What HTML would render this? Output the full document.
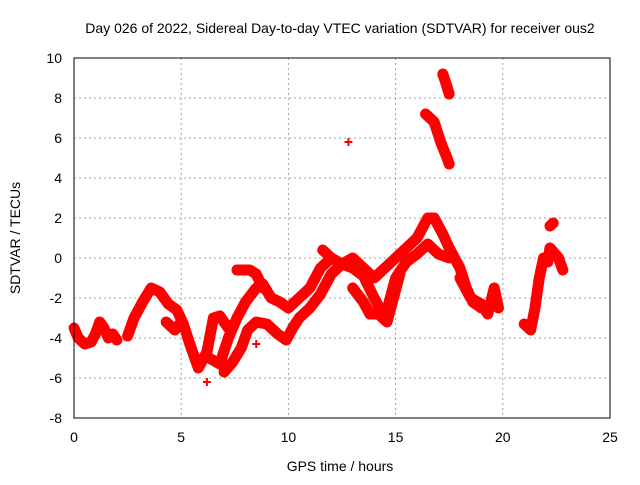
<!DOCTYPE html>
<html><head><meta charset="utf-8"><style>
body{margin:0;background:#fff}
svg text{font-family:"Liberation Sans",sans-serif;font-size:14px;fill:#000}
</style></head><body>
<svg id="c" width="640" height="480">
<text x="340" y="33" text-anchor="middle">Day 026 of 2022, Sidereal Day-to-day VTEC variation (SDTVAR) for receiver ous2</text>
<text x="340" y="471" text-anchor="middle">GPS time / hours</text>
<text transform="translate(20,238) rotate(-90)" text-anchor="middle">SDTVAR / TECUs</text>
<g id="grid"></g><g id="ticks"></g><g id="data"></g>
<rect x="74" y="58" width="536" height="360" fill="none" stroke="#000" stroke-width="1"/>
</svg>
<script>
const xTicks=[0,5,10,15,20,25];
const yTicks=[-8,-6,-4,-2,0,2,4,6,8,10];
const track1=[[0,-3.5],[0.2,-4],[0.5,-4.3],[0.8,-4.2],[1.0,-3.8],[1.2,-3.2],[1.4,-3.5],[1.6,-4],[1.8,-3.8],[2.0,-4.1]];
const track2=[[2.5,-3.9],[2.8,-3],[3.2,-2.2],[3.6,-1.5],[4.0,-1.7],[4.4,-2.3],[4.8,-2.6],[5.1,-3.3],[5.4,-4.3],[5.8,-5.5],[6.2,-4.7],[6.5,-3],[6.8,-2.9],[7.2,-3.5]];
const track3=[[4.3,-3.2],[4.7,-3.6],[5.0,-3.2]];
const track4=[[6.3,-5],[6.8,-5.3],[7.2,-4],[7.6,-3],[8.0,-2.2],[8.5,-1.5],[8.8,-1.3],[9.2,-2],[9.6,-2.2],[10,-2.5],[10.5,-2],[11,-1.5],[11.5,-0.5],[12,0]];
const track5=[[7,-5.7],[7.4,-5.2],[7.8,-4.5],[8.1,-3.6],[8.5,-3.2],[9,-3.3],[9.5,-3.8],[9.9,-4.1],[10.2,-3.5],[10.5,-3],[11,-2.5],[11.5,-1.8],[12,-0.8],[12.5,-0.3],[13,-0.5],[13.5,-0.9],[14,-2],[14.5,-3],[15,-1],[15.5,-0.2],[16,0.2],[16.5,0.7],[17,0.2],[17.5,0]];
const track6=[[7.6,-0.6],[8.2,-0.6],[8.5,-0.8],[8.8,-1.5]];
const track7=[[11.6,0.4],[12,0],[12.5,-0.3],[13,0],[13.5,-0.5],[14,-1],[14.5,-0.5],[15,0],[15.5,0.5],[16,1],[16.5,2],[16.8,2],[17.2,1.2],[17.5,0.5],[18,-0.5],[18.3,-1.5],[18.6,-2.2],[19,-2.5]];
const track8=[[13,-1.5],[13.5,-2.2],[13.8,-2.8],[14.2,-2.8],[14.6,-3.2],[14.9,-2],[15.2,-0.8]];
const track9=[[18,-1],[18.5,-2],[19,-2.3],[19.3,-2.8],[19.6,-1.5],[19.8,-2.5]];
const track10=[[21,-3.3],[21.3,-3.6],[21.5,-2.5],[21.7,-1],[21.9,0],[22.1,-0.2],[22.2,0.5],[22.6,0],[22.8,-0.6]];
const track11=[[16.4,7.2],[16.8,6.8],[17.1,5.8],[17.4,5],[17.5,4.7]];
const track12=[[17.2,9.2],[17.3,8.9],[17.5,8.2]];
const track13=[[22.2,1.6],[22.35,1.75]];
const outliers=[[12.8,5.8],[6.2,-6.2],[8.5,-4.3]];
const tracks=[track1,track2,track3,track4,track5,track6,track7,track8,track9,track10,track11,track12,track13];
const X=v=>74+v*536/25, Y=v=>258-v*20;
const NS="http://www.w3.org/2000/svg";
const g=document.getElementById('grid'),t=document.getElementById('ticks'),d=document.getElementById('data');
function mk(tag,at,par){const e=document.createElementNS(NS,tag);for(const k in at)e.setAttribute(k,at[k]);par.appendChild(e);return e;}
xTicks.forEach(v=>{
 if(v>0&&v<25){const l=mk('line',{x1:X(v),x2:X(v),y1:58,y2:418,stroke:'#a0a0a0','stroke-dasharray':'2,3'},g);
 
 }
 const s=mk('text',{x:X(v),y:442,'text-anchor':'middle'},t);s.textContent=v;
 
 
});
yTicks.forEach(v=>{
 if(v>-8&&v<10){const l=mk('line',{x1:74,x2:610,y1:Y(v),y2:Y(v),stroke:'#a0a0a0','stroke-dasharray':'2,3'},g);
 
 }
 const s=mk('text',{x:62,y:Y(v)+5,'text-anchor':'end'},t);s.textContent=v;
 
 
});
function plus(x,y){const p=mk('path',{d:`M${X(x)-4},${Y(y)}h8M${X(x)},${Y(y)-4}v8`,stroke:'#f00','stroke-width':2},d);
 
 }
tracks.forEach(tr=>{
 const pl=mk('polyline',{points:tr.map(p=>X(p[0])+','+Y(p[1])).join(' '),fill:'none',stroke:'#f00','stroke-width':11,'stroke-linejoin':'round','stroke-linecap':'round'},d);
 
 
 tr.forEach(p=>plus(p[0],p[1]));
});
outliers.forEach(p=>plus(p[0],p[1]));
</script>
</body></html>
